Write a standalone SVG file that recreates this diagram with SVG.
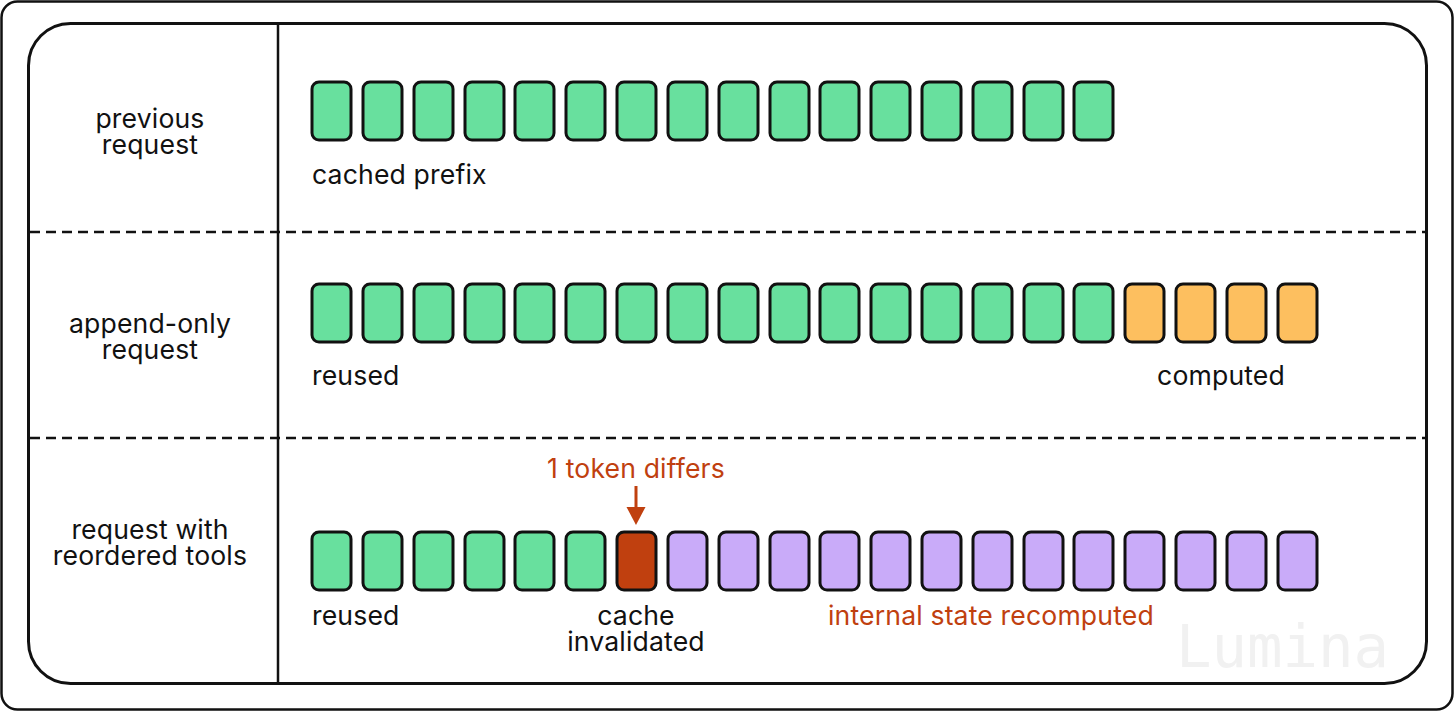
<svg xmlns="http://www.w3.org/2000/svg" width="1456" height="712" viewBox="0 0 1456 712">
  <defs>
    <style>
      .t { font-family: Inter, "Noto Sans", "Liberation Sans", sans-serif; font-size: 26.6px; fill: #111; letter-spacing: 0.15px; }
      .c { text-anchor: middle; }
      .red { fill: #C0400F; }
      .blk { stroke: #111; stroke-width: 3; }
      .g { fill: #68E09E; }
      .o { fill: #FDBF5F; }
      .r { fill: #C0400F; }
      .p { fill: #C9ABF9; }
      .dash { stroke: #111; stroke-width: 2.5; stroke-dasharray: 10 6; fill: none; }
    </style>
    <rect id="b" width="39" height="58" rx="7" ry="7"/>
  </defs>
  <rect x="0" y="0" width="1456" height="712" fill="#fff"/>
  <g id="frame">
    <rect x="1.5" y="1.5" width="1451" height="708" rx="16" ry="16" fill="#fff" stroke="#111" stroke-width="2.5"/>
    <rect x="28.5" y="23.5" width="1398" height="660" rx="42" ry="42" fill="#fff" stroke="#111" stroke-width="3"/>
    <line x1="278" y1="23" x2="278" y2="684" stroke="#111" stroke-width="2.5"/>
  </g>
  <g id="connectors">
    <line class="dash" x1="30" y1="232" x2="1426" y2="232"/>
    <line class="dash" x1="30" y1="438" x2="1426" y2="438"/>
    <line x1="636" y1="486" x2="636" y2="508" stroke="#C0400F" stroke-width="3"/>
    <path d="M626.5,507 L645.5,507 L636,525 z" fill="#C0400F"/>
  </g>
  <text x="1176" y="667" font-family="'DejaVu Sans Mono', 'Liberation Mono', monospace" font-size="59" fill="#F1F1F1">Lumina</text>
  <g id="row-previous">
    <text class="t c" x="150" y="128">previous<tspan x="150" dy="26">request</tspan></text>
    <g class="blk g">
      <use href="#b" x="312" y="82"/><use href="#b" x="363" y="82"/><use href="#b" x="414" y="82"/><use href="#b" x="465" y="82"/>
      <use href="#b" x="515" y="82"/><use href="#b" x="566" y="82"/><use href="#b" x="617" y="82"/><use href="#b" x="668" y="82"/>
      <use href="#b" x="719" y="82"/><use href="#b" x="770" y="82"/><use href="#b" x="820" y="82"/><use href="#b" x="871" y="82"/>
      <use href="#b" x="922" y="82"/><use href="#b" x="973" y="82"/><use href="#b" x="1024" y="82"/><use href="#b" x="1074" y="82"/>
    </g>
    <text class="t" x="312" y="184">cached prefix</text>
  </g>
  <g id="row-append">
    <text class="t c" x="150" y="333">append-only<tspan x="150" dy="26">request</tspan></text>
    <g class="blk g">
      <use href="#b" x="312" y="284"/><use href="#b" x="363" y="284"/><use href="#b" x="414" y="284"/><use href="#b" x="465" y="284"/>
      <use href="#b" x="515" y="284"/><use href="#b" x="566" y="284"/><use href="#b" x="617" y="284"/><use href="#b" x="668" y="284"/>
      <use href="#b" x="719" y="284"/><use href="#b" x="770" y="284"/><use href="#b" x="820" y="284"/><use href="#b" x="871" y="284"/>
      <use href="#b" x="922" y="284"/><use href="#b" x="973" y="284"/><use href="#b" x="1024" y="284"/><use href="#b" x="1074" y="284"/>
    </g>
    <g class="blk o">
      <use href="#b" x="1125" y="284"/><use href="#b" x="1176" y="284"/><use href="#b" x="1227" y="284"/><use href="#b" x="1278" y="284"/>
    </g>
    <text class="t" x="312" y="385">reused</text>
    <text class="t c" x="1221" y="385">computed</text>
  </g>
  <g id="row-reordered">
    <text class="t c" x="150" y="539">request with<tspan x="150" dy="26">reordered tools</tspan></text>
    <text class="t c red" x="636" y="478">1 token differs</text>
    <g class="blk g">
      <use href="#b" x="312" y="532"/><use href="#b" x="363" y="532"/><use href="#b" x="414" y="532"/><use href="#b" x="465" y="532"/>
      <use href="#b" x="515" y="532"/><use href="#b" x="566" y="532"/>
    </g>
    <g class="blk r"><use href="#b" x="617" y="532"/></g>
    <g class="blk p">
      <use href="#b" x="668" y="532"/><use href="#b" x="719" y="532"/><use href="#b" x="770" y="532"/><use href="#b" x="820" y="532"/>
      <use href="#b" x="871" y="532"/><use href="#b" x="922" y="532"/><use href="#b" x="973" y="532"/><use href="#b" x="1024" y="532"/>
      <use href="#b" x="1074" y="532"/><use href="#b" x="1125" y="532"/><use href="#b" x="1176" y="532"/><use href="#b" x="1227" y="532"/>
      <use href="#b" x="1278" y="532"/>
    </g>
    <text class="t" x="312" y="625">reused</text>
    <text class="t c" x="636" y="625">cache<tspan x="636" dy="26">invalidated</tspan></text>
    <text class="t red" x="828" y="625">internal state recomputed</text>
  </g>
</svg>
